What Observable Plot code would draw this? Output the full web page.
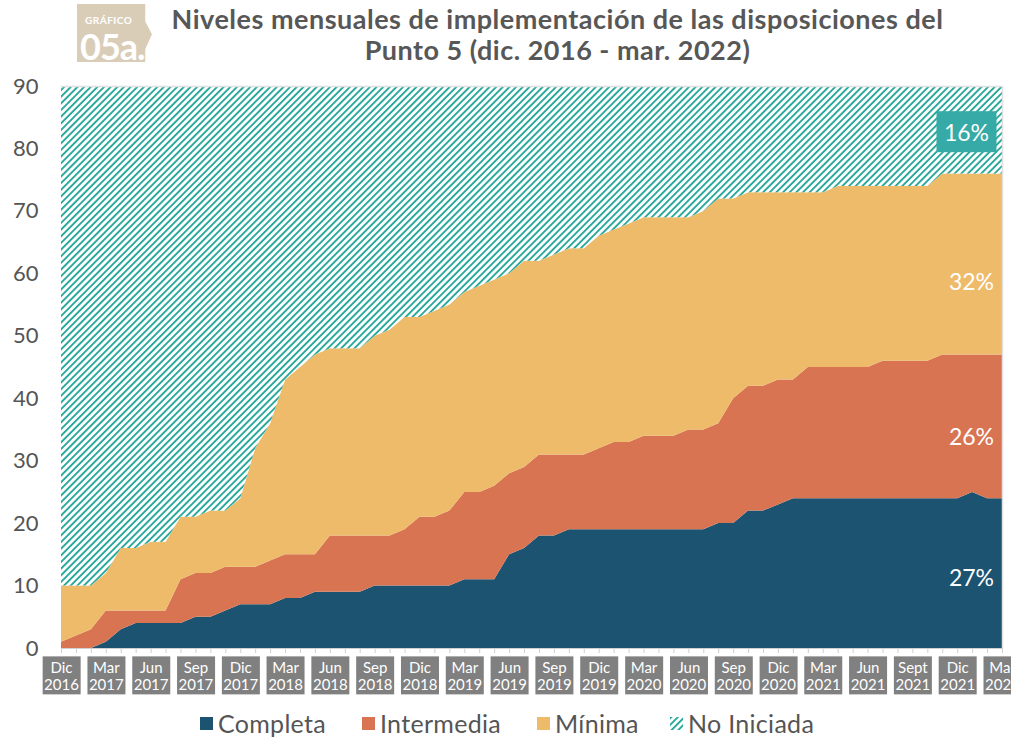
<!DOCTYPE html>
<html>
<head>
<meta charset="utf-8">
<script src="https://cdn.jsdelivr.net/npm/d3@7"></script>
<script src="https://cdn.jsdelivr.net/npm/@observablehq/plot@0.6"></script>
<style>
  body { margin: 0; background: #fff; width: 1011px; height: 740px; overflow: hidden; font-family: Lato, "Open Sans", sans-serif; }
  #head { position: relative; height: 70px; }
  #logo { position: absolute; left: 77px; top: 4px; width: 75px; height: 58px; background: #d9cdb8;
          clip-path: polygon(0 0, 91% 0, 91% 30%, 100% 52%, 91% 78%, 91% 100%, 0 100%); color: #fff; }
  #logo .g { position: absolute; left: 8px; top: 11px; font-size: 10px; line-height: 11px; font-weight: 700; letter-spacing: 0.5px; }
  #logo .n { position: absolute; left: 3px; top: 27px; font-size: 36px; font-weight: 700; letter-spacing: -1px; line-height: 30px; }
  #title { position: absolute; left: 130px; width: 855px; top: 3px; text-align: center; font-size: 27px; font-weight: 700;
           color: #575757; line-height: 31px; letter-spacing: 0.5px; }
  #legend { position: relative; height: 40px; }
  .item { position: absolute; top: 8px; font-size: 25px; color: #555; line-height: 30px; letter-spacing: 0.3px; }
  .sw { position: absolute; top: 17px; width: 13px; height: 13px; }
</style>
</head>
<body>
<div id="head">
  <div id="logo"><div class="g">GRÁFICO</div><div class="n">05a.</div></div>
  <div id="title">Niveles mensuales de implementación de las disposiciones del<br>Punto 5 (dic. 2016 - mar. 2022)</div>
</div>
<div id="chart"></div>
<div id="legend"></div>
<script>
// Categories (stack order, bottom to top) and colours
const categories = ["Completa", "Intermedia", "Mínima", "No Iniciada"];
const colors = ["#1b5370", "#d97452", "#eebb6a", "url(#hatch)"];

// Monthly counts of dispositions, dic. 2016 (index 0) to mar. 2022 (index 63)
const completa = [0,0,0,1,3,4,4,4,4,5,5,6,7,7,7,8,8,9,9,9,9,10,10,10,10,10,10,11,11,11,15,16,18,18,
  19,19,19,19,19,19,19,19,19,19,20,20,22,22,23,24,24,24,24,24,24,24,24,24,24,24,24,25,24,24];
const intermedia = [1,2,3,5,3,2,2,2,7,7,7,7,6,6,7,7,7,6,9,9,9,8,8,9,11,11,12,14,14,15,13,13,13,13,
  12,12,13,14,14,15,15,15,16,16,16,20,20,20,20,19,21,21,21,21,21,22,22,22,22,23,23,22,23,23];
const minima = [9,8,7,6,10,10,11,11,10,9,10,9,11,19,22,28,30,32,30,30,30,32,33,34,32,33,33,32,33,33,32,33,31,32,
  33,33,34,34,35,35,35,35,34,35,36,32,31,31,30,30,28,28,29,29,29,28,28,28,28,29,29,29,29,29];
const noIniciada = [80,80,80,78,74,74,73,73,69,69,68,68,66,58,54,47,45,43,42,42,42,40,39,37,37,36,35,33,32,31,30,28,28,27,
  26,26,24,23,22,21,21,21,21,20,18,18,17,17,17,17,17,17,16,16,16,16,16,16,16,14,14,14,14,14];

// Quarterly tick labels (every 3 months from index 0)
const tickLabels = ["Dic\n2016","Mar\n2017","Jun\n2017","Sep\n2017","Dic\n2017","Mar\n2018","Jun\n2018","Sep\n2018",
  "Dic\n2018","Mar\n2019","Jun\n2019","Sep\n2019","Dic\n2019","Mar\n2020","Jun\n2020","Sep\n2020","Dic\n2020",
  "Mar\n2021","Jun\n2021","Sept\n2021","Dic\n2021","Mar\n2022"];
const yTicks = [0,10,20,30,40,50,60,70,80,90];

// Final-share labels
const pctText = ["27%", "26%", "32%"];
const pctY = [11.2, 33.8, 58.6];
const pctTop = ["16%"];
const pctTopY = [82.5];

const series = [completa, intermedia, minima, noIniciada];
const rows = [];
series.forEach((vals, s) => vals.forEach((v, i) => rows.push({i, cat: categories[s], v})));
const nMonths = completa.length;
const monthIdx = d3.range(nMonths);
const tickIdx = tickLabels.map((_, k) => k * 3);

const plot = Plot.plot({
  width: 1011,
  height: 630,
  marginTop: 16,
  marginBottom: 52,
  marginLeft: 61,
  marginRight: 9,
  style: {fontFamily: "Lato, 'Open Sans', sans-serif", background: "#fff"},
  x: {type: "linear", domain: [0, nMonths - 1]},
  y: {domain: [0, 90]},
  color: {domain: categories, range: colors},
  marks: [
    Plot.areaY(rows, {x: "i", y: "v", z: "cat", fill: "cat", order: categories, curve: "linear"}),
    Plot.ruleY([90], {stroke: "#e0e0e0", strokeWidth: 1.5}),
    Plot.ruleX([nMonths - 1], {stroke: "#e0e0e0", strokeWidth: 1.5}),
    Plot.ruleY([0], {stroke: "#d0d0d0", strokeWidth: 1}),
    Plot.axisX({ticks: monthIdx, tickSize: 5, tickFormat: () => "", stroke: "#cfcfcf", label: null}),
    Plot.axisX({ticks: tickIdx, tickSize: 0, tickPadding: 12, label: null,
      tickFormat: d => tickLabels[d / 3], fill: "#fff", fontSize: 15, lineHeight: 1.15}),
    Plot.axisY({ticks: yTicks, tickSize: 0, tickPadding: 23, label: null, fill: "#555", fontSize: 22}),
    Plot.text(pctText, {x: nMonths - 1, y: (d, k) => pctY[k], text: d => d, dx: -31, fill: "#fff",
      fontSize: 23, textAnchor: "middle"}),
    Plot.text(pctTop, {x: nMonths - 1, y: (d, k) => pctTopY[k], text: d => d, dx: -36, fill: "#fff",
      fontSize: 23, textAnchor: "middle", ariaLabel: () => "top-pct"})
  ]
});

// hatch pattern for "No Iniciada"
const ns = "http://www.w3.org/2000/svg";
function addPattern(svg, id) {
  const defs = document.createElementNS(ns, "defs");
  defs.innerHTML = `<pattern id="${id}" patternUnits="userSpaceOnUse" width="4.7" height="4.7" patternTransform="rotate(45)">
     <rect width="4.7" height="4.7" fill="#fff"/><rect width="1.9" height="4.7" fill="#2aa89b"/></pattern>`;
  svg.insertBefore(defs, svg.firstChild);
}
addPattern(plot, "hatch");
document.getElementById("chart").appendChild(plot);

function boxBehind(t, w, h, fill) {
  const b = t.getBBox();
  const r = document.createElementNS(ns, "rect");
  const cx = b.x + b.width / 2, cy = b.y + b.height / 2;
  r.setAttribute("x", cx - w / 2);
  r.setAttribute("width", w);
  r.setAttribute("y", cy - h / 2);
  r.setAttribute("height", h);
  r.setAttribute("fill", fill);
  if (t.getAttribute("transform")) r.setAttribute("transform", t.getAttribute("transform"));
  t.parentNode.insertBefore(r, t);
}
// gray boxes behind x tick labels
plot.querySelectorAll('g[aria-label="x-axis tick label"] text').forEach(t => {
  if (!t.textContent.trim()) return;
  boxBehind(t, 38, 38, "#808080");
});
// teal box behind 16%
let tops = plot.querySelectorAll('text[aria-label="top-pct"]');
if (!tops.length) tops = Array.from(plot.querySelectorAll("text")).filter(t => t.textContent === "16%");
tops.forEach(t => boxBehind(t, 60, 41, "#35aaa6"));

// legend
const legend = document.getElementById("legend");
const lx = [200, 362, 537, 670];
categories.forEach((c, k) => {
  const sw = document.createElementNS(ns, "svg");
  sw.setAttribute("class", "sw");
  sw.setAttribute("width", 13); sw.setAttribute("height", 13);
  sw.style.left = lx[k] + "px";
  const r = document.createElementNS(ns, "rect");
  r.setAttribute("width", 13); r.setAttribute("height", 13);
  if (k === 3) {
    addPattern(sw, "hatchLegend");
    r.setAttribute("fill", "url(#hatchLegend)");
  } else {
    r.setAttribute("fill", colors[k]);
  }
  sw.appendChild(r);
  legend.appendChild(sw);
  const s = document.createElement("div");
  s.className = "item";
  s.style.left = (lx[k] + 18) + "px";
  s.textContent = c;
  legend.appendChild(s);
});
</script>
</body>
</html>
